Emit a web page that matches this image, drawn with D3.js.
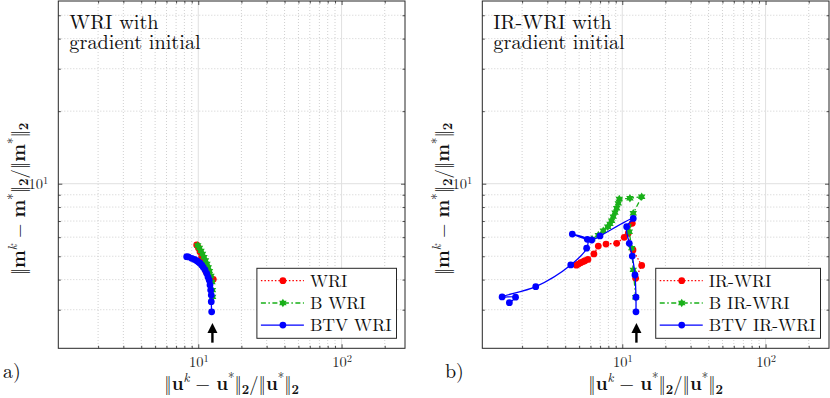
<!DOCTYPE html>
<html>
<head>
<meta charset="utf-8">
<script src="https://cdn.jsdelivr.net/npm/d3@7"></script>
<style>
  body { margin: 0; background: #fff; }
  svg { display: block; font-family: "Latin Modern Roman", "CMU Serif", serif; }
</style>
</head>
<body>
<div id="chart"></div>
<script>
// ---- axes ----
const xDomain = [1.055, 277];
const yDomain = [2.075, 57.3];
const xTickVals = [10, 100];
const yTickVals = [10];
const xMinor = [2, 3, 4, 5, 6, 7, 8, 9, 20, 30, 40, 50, 60, 70, 80, 90, 200];
const yMinor = [3, 4, 5, 6, 7, 8, 9, 20, 30, 40, 50];

// arrow marking the start (u, m)
const arrowU = 12.55;
const arrowM = [2.19, 2.64];

// ---- panel a) WRI ----
const wriU  = [9.75, 10.03, 10.28, 10.56, 10.78, 11.01, 11.31, 11.69, 12.07, 12.73];
const wriM  = [5.57, 5.41, 5.22, 4.98, 4.83, 4.65, 4.32, 4.18, 4.09, 4.01];
const bWriU = [9.91, 10.19, 10.44, 10.70, 10.96, 11.23, 11.50, 11.74, 11.97, 12.26, 12.46, 12.56, 12.60];
const bWriM = [5.54, 5.41, 5.26, 5.11, 4.96, 4.80, 4.65, 4.49, 4.34, 4.14, 3.91, 3.62, 3.39];
const btvWriU = [8.30, 8.54, 8.99, 9.41, 9.75, 10.03, 10.28, 10.58, 10.84, 11.14, 11.44, 11.69, 11.93, 12.07, 12.20, 12.32, 12.32, 12.40];
const btvWriM = [4.98, 4.97, 4.90, 4.85, 4.79, 4.73, 4.68, 4.59, 4.50, 4.39, 4.25, 4.10, 3.98, 3.80, 3.62, 3.45, 3.24, 2.94];

// ---- panel b) IR-WRI ----
const irU  = [12.40, 13.66, 11.88, 11.01, 11.74, 10.32, 9.14, 7.70, 6.80, 6.34, 5.76, 5.49, 5.34, 5.13, 4.95, 4.78];
const irM  = [4.05, 4.58, 5.31, 6.23, 6.85, 5.99, 5.66, 5.62, 5.51, 5.11, 4.85, 4.79, 4.75, 4.70, 4.64, 4.59];
const bIrU = [12.40, 11.93, 11.63, 11.19, 11.93, 13.66, 11.31, 9.53, 9.38, 9.14, 8.90, 8.65, 8.43, 8.21, 7.91, 7.37, 6.80, 6.15];
const bIrM = [3.38, 4.39, 5.40, 6.32, 7.54, 8.83, 8.70, 8.64, 8.29, 7.91, 7.58, 7.30, 7.02, 6.81, 6.63, 6.38, 6.12, 5.89];
const btvIrU = [12.46, 12.46, 12.26, 11.74, 11.19, 10.73, 11.93, 6.99, 6.12, 4.48, 5.70, 5.64, 4.37, 2.49, 1.45, 1.80, 1.63];
const btvIrM = [2.94, 3.38, 4.18, 5.01, 5.66, 6.63, 7.18, 6.07, 5.84, 6.18, 5.88, 5.40, 4.60, 3.74, 3.39, 3.38, 3.21];

const titleA = ["WRI with", "gradient initial"];
const titleB = ["IR-WRI with", "gradient initial"];
const namesA = ["WRI", "B WRI", "BTV WRI"];
const namesB = ["IR-WRI", "B IR-WRI", "BTV IR-WRI"];

// six pointed star, like matlab's 'h' marker
const hexagram = {
  draw(ctx, size) {
    const R = Math.sqrt(size) * 0.72, r = R / Math.sqrt(3);
    for (let i = 0; i < 12; i++) {
      const a = Math.PI / 6 * i - Math.PI / 2;
      const rr = i % 2 ? r : R;
      if (i) ctx.lineTo(rr * Math.cos(a), rr * Math.sin(a));
      else ctx.moveTo(rr * Math.cos(a), rr * Math.sin(a));
    }
    ctx.closePath();
  }
};

const styles = [
  { color: "#ff0000", dash: "1.5,2", symbol: d3.symbolCircle, size: 36, curve: d3.curveLinear },
  { color: "#19b019", dash: "5,2.5,1.5,2.5", symbol: hexagram, size: 36, curve: d3.curveLinear },
  { color: "#0000ff", dash: null, symbol: d3.symbolCircle, size: 36, curve: d3.curveCatmullRom }
];

const plotW = 346.7, plotH = 347.3, plotTop = 1;
const axisColor = "#262626";
const font = "Latin Modern Roman, CMU Serif, serif";
const labelSize = 18.5;

const svg = d3.select("#chart").append("svg")
    .attr("width", 830)
    .attr("height", 398);

const x = d3.scaleLog().domain(xDomain).range([0, plotW]);
const y = d3.scaleLog().domain(yDomain).range([plotH, 0]);

// writes a math-ish label with tspans; shifts in em of base font
function mathText(sel, fs, parts) {
  let shift = 0;
  parts.forEach(([t, kind]) => {
    const small = kind.startsWith("sup") || kind.startsWith("sub");
    const target = kind.startsWith("sup") ? -0.42 : kind.startsWith("sub") ? 0.2 : 0;
    const ts = sel.append("tspan")
        .attr("dy", ((target - shift) * fs).toFixed(2))
        .attr("font-size", small ? fs * 0.7 : fs)
        .text(t);
    if (kind.endsWith("b")) ts.attr("font-weight", "bold");
    if (kind.endsWith("i")) ts.attr("font-style", "italic");
    shift = target;
  });
}

function drawPanel(left, series, title, names, tag, tagX, yLabelX) {
  const g = svg.append("g").attr("transform", `translate(${left},${plotTop})`);

  // grid
  g.append("g").selectAll("line").data(xMinor).join("line")
      .attr("x1", d => x(d)).attr("x2", d => x(d))
      .attr("y1", 0).attr("y2", plotH)
      .attr("stroke", "#c4c4c4").attr("stroke-width", 0.8).attr("stroke-dasharray", "1,2");
  g.append("g").selectAll("line").data(yMinor).join("line")
      .attr("y1", d => y(d)).attr("y2", d => y(d))
      .attr("x1", 0).attr("x2", plotW)
      .attr("stroke", "#c4c4c4").attr("stroke-width", 0.8).attr("stroke-dasharray", "1,2");
  g.append("g").selectAll("line").data(xTickVals).join("line")
      .attr("x1", d => x(d)).attr("x2", d => x(d))
      .attr("y1", 0).attr("y2", plotH)
      .attr("stroke", "#e0e0e0").attr("stroke-width", 1);
  g.append("g").selectAll("line").data(yTickVals).join("line")
      .attr("y1", d => y(d)).attr("y2", d => y(d))
      .attr("x1", 0).attr("x2", plotW)
      .attr("stroke", "#e0e0e0").attr("stroke-width", 1);

  // series
  series.forEach(([us, ms], i) => {
    const st = styles[i];
    const pts = us.map((u, k) => [u, ms[k]]);
    g.append("path")
        .datum(pts)
        .attr("fill", "none")
        .attr("stroke", st.color)
        .attr("stroke-width", 1.3)
        .attr("stroke-dasharray", st.dash)
        .attr("d", d3.line().curve(st.curve).x(d => x(d[0])).y(d => y(d[1])));
    g.append("g").selectAll("path").data(pts).join("path")
        .attr("transform", d => `translate(${x(d[0])},${y(d[1])})`)
        .attr("d", d3.symbol(st.symbol, st.size))
        .attr("fill", st.color);
  });

  // arrow
  const ax = x(arrowU), yTail = y(arrowM[0]), yTip = y(arrowM[1]);
  g.append("line")
      .attr("x1", ax).attr("x2", ax)
      .attr("y1", yTail).attr("y2", yTip + 6)
      .attr("stroke", "#000").attr("stroke-width", 2.4);
  g.append("path")
      .attr("d", `M${ax},${yTip} L${ax - 5},${yTip + 10} L${ax + 5},${yTip + 10} Z`)
      .attr("fill", "#000");

  // axes: ticks inward on all sides
  const tickAxis = (axis, vals, size, tr) => {
    const a = g.append("g").attr("transform", tr)
        .call(axis.tickValues(vals).tickSizeInner(-size).tickSizeOuter(0).tickFormat(""));
    a.select(".domain").remove();
    a.selectAll(".tick line").attr("stroke", axisColor).attr("stroke-width", 0.8);
    return a;
  };
  tickAxis(d3.axisBottom(x), xMinor, 2.5, `translate(0,${plotH})`);
  tickAxis(d3.axisTop(x), xMinor, 2.5, "translate(0,0)");
  tickAxis(d3.axisLeft(y), yMinor, 2.5, "translate(0,0)");
  tickAxis(d3.axisRight(y), yMinor, 2.5, `translate(${plotW},0)`);
  tickAxis(d3.axisTop(x), xTickVals, 4, "translate(0,0)");
  tickAxis(d3.axisRight(y), yTickVals, 4, `translate(${plotW},0)`);

  const xAxis = g.append("g").attr("transform", `translate(0,${plotH})`)
      .call(d3.axisBottom(x).tickValues(xTickVals).tickSizeInner(-4).tickSizeOuter(0));
  const yAxis = g.append("g")
      .call(d3.axisLeft(y).tickValues(yTickVals).tickSizeInner(-4).tickSizeOuter(0).tickPadding(10));
  [xAxis, yAxis].forEach(a => {
    a.select(".domain").remove();
    a.selectAll(".tick line").attr("stroke", axisColor).attr("stroke-width", 0.8);
    a.selectAll(".tick text")
        .attr("fill", axisColor)
        .attr("font-family", font)
        .attr("font-size", 14.5)
        .each(function(d) {
          const t = d3.select(this).text("10");
          t.append("tspan").attr("dy", "-0.45em").attr("font-size", "72%")
              .text(Math.round(Math.log10(d)));
        });
  });
  xAxis.selectAll(".tick text").attr("y", 18.4).attr("dy", null);

  // box
  g.append("rect")
      .attr("width", plotW).attr("height", plotH)
      .attr("fill", "none").attr("stroke", axisColor).attr("stroke-width", 1);

  // title inside the axes
  g.selectAll(".title").data(title).join("text")
      .attr("class", "title")
      .attr("x", 11).attr("y", (d, i) => 27.5 + i * 20.8)
      .attr("font-size", 20.3).attr("fill", "#111")
      .text(d => d);

  // legend
  const lg = g.append("g");
  const rows = [12.4, 34.7, 56.8];
  const lgRect = lg.append("rect").attr("height", 70).attr("fill", "#fff")
      .attr("stroke", axisColor).attr("stroke-width", 1);
  let maxW = 0;
  names.forEach((n, i) => {
    const st = styles[i];
    lg.append("line")
        .attr("x1", 4).attr("x2", 47).attr("y1", rows[i]).attr("y2", rows[i])
        .attr("stroke", st.color).attr("stroke-width", 1.3).attr("stroke-dasharray", st.dash);
    lg.append("path")
        .attr("transform", `translate(26,${rows[i]})`)
        .attr("d", d3.symbol(st.symbol, st.size))
        .attr("fill", st.color);
    const t = lg.append("text")
        .attr("x", 53).attr("y", rows[i]).attr("dy", "0.34em")
        .attr("font-size", 17.6).attr("fill", "#111")
        .text(n);
    maxW = Math.max(maxW, t.node().getComputedTextLength());
  });
  const lgW = 53 + maxW + 5;
  lgRect.attr("width", lgW);
  lg.attr("transform", `translate(${plotW - 8.5 - lgW},${267.3})`);

  // axis labels
  const xl = svg.append("text")
      .attr("x", left + plotW / 2).attr("y", 390)
      .attr("text-anchor", "middle").attr("font-size", labelSize).attr("fill", "#111");
  mathText(xl, labelSize, [["‖", "n"], ["u", "b"], ["k", "supi"], [" − ", "n"], ["u", "b"], ["*", "sup"],
    ["‖", "n"], ["2", "subb"], ["/‖", "n"], ["u", "b"], ["*", "sup"], ["‖", "n"], ["2", "subb"]]);

  const yl = svg.append("text")
      .attr("transform", `translate(${yLabelX},199) rotate(-90)`)
      .attr("text-anchor", "middle").attr("font-size", labelSize).attr("fill", "#111");
  mathText(yl, labelSize, [["‖", "n"], ["m", "b"], ["k", "supi"], [" − ", "n"], ["m", "b"], ["*", "sup"],
    ["‖", "n"], ["2", "sub"], ["/‖", "n"], ["m", "b"], ["*", "sup"], ["‖", "n"], ["2", "sub"]]);

  svg.append("text")
      .attr("x", tagX).attr("y", 378)
      .attr("font-size", 20).attr("fill", "#111")
      .text(tag);
}

drawPanel(58.3, [[wriU, wriM], [bWriU, bWriM], [btvWriU, btvWriM]], titleA, namesA, "a)", 3, 24.5);
drawPanel(482.3, [[irU, irM], [bIrU, bIrM], [btvIrU, btvIrM]], titleB, namesB, "b)", 445, 448.5);
</script>
</body>
</html>
